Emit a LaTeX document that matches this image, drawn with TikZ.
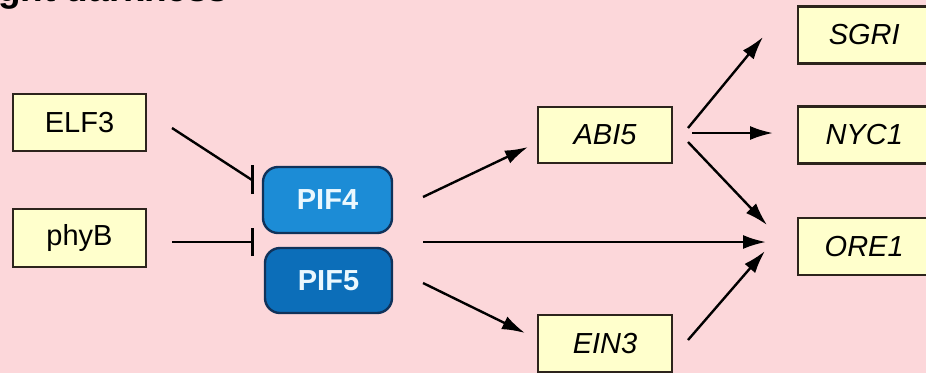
\documentclass[tikz,border=0pt]{standalone}
\usepackage{fontspec}
\setmainfont{Liberation Sans}
\usetikzlibrary{arrows.meta}
\definecolor{bgpink}{RGB}{252,215,218}
\definecolor{boxfill}{RGB}{255,255,204}
\definecolor{boxline}{RGB}{45,36,28}
\definecolor{pifA}{RGB}{28,140,214}
\definecolor{pifB}{RGB}{12,110,185}
\definecolor{pifline}{RGB}{16,50,90}
\tikzset{
  gene/.style={draw=boxline, line width=2.4pt, fill=boxfill, inner sep=0pt,
    font=\fontsize{29}{32}\selectfont, text=black},
  genebox/.style={gene, minimum width=133pt, minimum height=57pt},
  farbox/.style={gene, minimum width=132pt, minimum height=57pt},
  pif/.style={draw=pifline, line width=2.4pt, rounded corners=15pt, inner sep=0pt,
    font=\fontsize{29}{32}\selectfont\bfseries, text=white!92!cyan},
  act/.style={line width=2.4pt, -{Latex[length=23pt,width=14pt]}},
  link/.style={line width=2.4pt},
  barline/.style={line width=3pt},
}
\begin{document}
\begin{tikzpicture}[x=1pt,y=-1pt]
\useasboundingbox (0,0) rectangle (926,373);
\clip (0,0) rectangle (926,373);
\fill[bgpink] (0,0) rectangle (926,373);

% heading, running off the top edge
\node[anchor=base west, inner sep=0pt, font=\fontsize{37}{40}\selectfont\bfseries] (title) at (-2,1.5) {ght darkness};

% regulators
\node[genebox] (elf) at (79.5,122.5) {ELF3};
\node[genebox, minimum height=58pt] (phy) at (79.5,238) {phyB};

% PIF proteins
\node[pif, fill=pifA, minimum width=129pt, minimum height=66pt] (pif4) at (327.5,200) {PIF4};
\node[pif, fill=pifB, minimum width=127pt, minimum height=65pt] (pif5) at (328.5,280.5) {PIF5};

% downstream genes
\node[genebox, minimum width=134pt, minimum height=56pt] (abi) at (605,135) {\itshape ABI5};
\node[genebox, minimum width=134pt] (ein) at (605,343.5) {\itshape EIN3};
\node[farbox, anchor=west] (sgr) at (797,35) {\itshape SGRI};
\node[farbox, anchor=west] (nyc) at (797,135) {\itshape NYC1};
\node[farbox, anchor=west] (ore) at (797,246.5) {\itshape ORE1};

% connector end points
\coordinate (e1) at (172,128);
\coordinate (e2) at (252,180);
\coordinate (p1) at (172,242);
\coordinate (p2) at (252,242);
\coordinate (o1) at (423,197);
\coordinate (o2) at (423,242);
\coordinate (o3) at (423,283);
\coordinate (a1) at (528,147);
\coordinate (a2) at (766,242);
\coordinate (a3) at (525,333);
\coordinate (b1) at (688,128);
\coordinate (b2) at (692,133);
\coordinate (b3) at (688,142);
\coordinate (c1) at (763,37);
\coordinate (c2) at (773,133);
\coordinate (c3) at (767,225);
\coordinate (d1) at (688,340);
\coordinate (d2) at (765,251);

% inhibition of PIF4/PIF5: line ending in an upright bar
\draw[link] (e1) -- (e2);
\draw[barline] ([yshift=-14pt]e2) -- ([yshift=15pt]e2);
\draw[link] (p1) -- (p2);
\draw[barline] ([yshift=-14pt]p2) -- ([yshift=14pt]p2);

% activation
\draw[act] (o1) -- (a1);
\draw[act] (o2) -- (a2);
\draw[act] (o3) -- (a3);
\draw[act] (b1) -- (c1);
\draw[act] (b2) -- (c2);
\draw[act] (b3) -- (c3);
\draw[act] (d1) -- (d2);
\end{tikzpicture}
\end{document}
